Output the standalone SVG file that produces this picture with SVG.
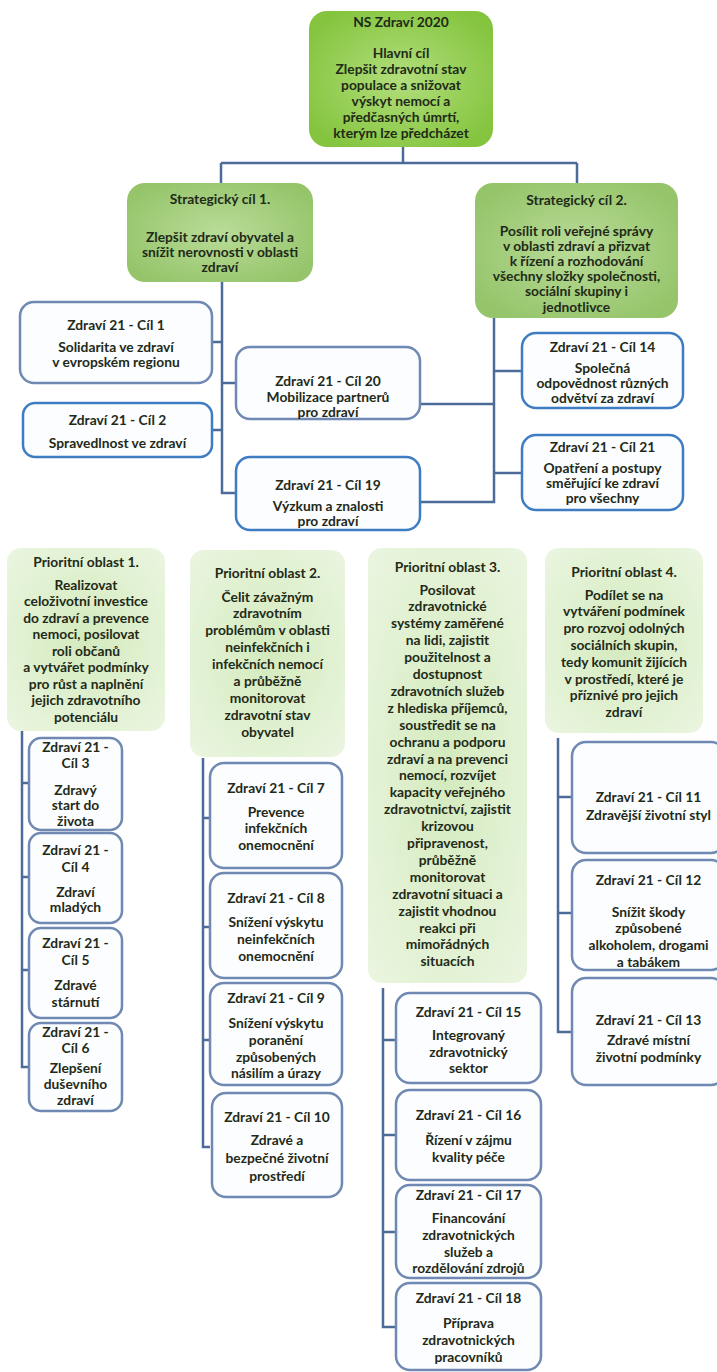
<svg xmlns="http://www.w3.org/2000/svg" width="717" height="1372" viewBox="0 0 717 1372">
<defs>
<radialGradient id="gTop" cx="50%" cy="50%" r="60%"><stop offset="0" stop-color="#b2de7c"/><stop offset="1" stop-color="#84c43e"/></radialGradient>
<radialGradient id="gStr" cx="50%" cy="50%" r="60%"><stop offset="0" stop-color="#b9dc98"/><stop offset="1" stop-color="#95c46a"/></radialGradient>
<radialGradient id="gPri" cx="50%" cy="50%" r="65%"><stop offset="0" stop-color="#d3eabd"/><stop offset="1" stop-color="#e9f5de"/></radialGradient>
<style>
.t{font-family:Lato,"Liberation Sans",sans-serif;font-size:13.8px;font-weight:700;fill:#1f2a18;text-anchor:middle}
.gb{fill:#fbfdff;stroke:#6f89b2;stroke-width:2.5}
.gbb{fill:#fbfdff;stroke:#3f7dc2;stroke-width:2.5}
.c{stroke:#4d6b98;stroke-width:2.5;fill:none}
</style>
</defs>

<g id="connectors">
<path class="c" d="M403 147V163M221 163H577M221 163V183M577 163V183"/>
<path class="c" d="M222 282V493H236M212 342H222M222 383H236M212 430H222"/>
<path class="c" d="M494 318V502H420M494 404H420M494 371H522M494 473H522"/>
<path class="c" d="M22 730V1067H29M22 783H29M22 877H29M22 970H29"/>
<path class="c" d="M203 758V1147H210M203 818H210M203 927H210M203 1040H210"/>
<path class="c" d="M383 988V1327H396M383 1040H396M383 1135H396M383 1232H396"/>
<path class="c" d="M558 738V1032H572M558 797H572M558 913H572"/>
</g>

<g id="ns2020">
<rect x="309" y="11" width="184" height="136" rx="18" fill="url(#gTop)"/>
<text class="t"><tspan x="401" y="26.5">NS Zdraví 2020</tspan><tspan x="401" y="57.5">Hlavní cíl</tspan><tspan x="401" y="73.5">Zlepšit zdravotní stav</tspan><tspan x="401" y="89.5">populace a snižovat</tspan><tspan x="401" y="105.5">výskyt nemocí a</tspan><tspan x="401" y="121.5">předčasných úmrtí,</tspan><tspan x="401" y="137.5">kterým lze předcházet</tspan></text>
</g>

<g id="strat1">
<rect x="127" y="183" width="186" height="99" rx="18" fill="url(#gStr)"/>
<text class="t"><tspan x="220" y="203.5">Strategický cíl 1.</tspan><tspan x="220" y="241.5">Zlepšit zdraví obyvatel a</tspan><tspan x="220" y="256.5">snížit nerovnosti v oblasti</tspan><tspan x="220" y="271.5">zdraví</tspan></text>
</g>

<g id="strat2">
<rect x="475" y="183" width="203" height="135" rx="18" fill="url(#gStr)"/>
<text class="t"><tspan x="576.5" y="204.5">Strategický cíl 2.</tspan><tspan x="576.5" y="236">Posílit roli veřejné správy</tspan><tspan x="576.5" y="251">v oblasti zdraví a přizvat</tspan><tspan x="576.5" y="266">k řízení a rozhodování</tspan><tspan x="576.5" y="281">všechny složky společnosti,</tspan><tspan x="576.5" y="296">sociální skupiny i</tspan><tspan x="576.5" y="311.5">jednotlivce</tspan></text>
</g>

<g id="cil1">
<rect class="gb" x="20" y="302" width="192" height="81" rx="14"/>
<text class="t"><tspan x="116" y="329.5">Zdraví 21 - Cíl 1</tspan><tspan x="116" y="351.5">Solidarita ve zdraví</tspan><tspan x="116" y="366.5">v evropském regionu</tspan></text>
</g>
<g id="cil2">
<rect class="gbb" x="23" y="403" width="189" height="54" rx="12"/>
<text class="t"><tspan x="117.5" y="424.5">Zdraví 21 - Cíl 2</tspan><tspan x="117.5" y="447.5">Spravedlnost ve zdraví</tspan></text>
</g>
<g id="cil20">
<rect class="gb" x="236" y="347" width="184" height="72" rx="14"/>
<text class="t"><tspan x="328" y="386">Zdraví 21 - Cíl 20</tspan><tspan x="328" y="401.5">Mobilizace partnerů</tspan><tspan x="328" y="416.5">pro zdraví</tspan></text>
</g>
<g id="cil19">
<rect class="gbb" x="236" y="457" width="184" height="73" rx="14"/>
<text class="t"><tspan x="328" y="489.5">Zdraví 21 - Cíl 19</tspan><tspan x="328" y="510.5">Výzkum a znalosti</tspan><tspan x="328" y="525.5">pro zdraví</tspan></text>
</g>
<g id="cil14">
<rect class="gbb" x="522" y="333" width="161" height="75" rx="14"/>
<text class="t"><tspan x="602.5" y="351.5">Zdraví 21 - Cíl 14</tspan><tspan x="602.5" y="372.5">Společná</tspan><tspan x="602.5" y="387.5">odpovědnost různých</tspan><tspan x="602.5" y="402.5">odvětví za zdraví</tspan></text>
</g>
<g id="cil21">
<rect class="gbb" x="522" y="435" width="161" height="75" rx="14"/>
<text class="t"><tspan x="602.5" y="451.5">Zdraví 21 - Cíl 21</tspan><tspan x="602.5" y="472.5">Opatření a postupy</tspan><tspan x="602.5" y="487.5">směřující ke zdraví</tspan><tspan x="602.5" y="502.5">pro všechny</tspan></text>
</g>

<g id="prior1">
<rect x="7" y="548" width="158" height="183" rx="14" fill="url(#gPri)"/>
<text class="t"><tspan x="86" y="566.5">Prioritní oblast  1.</tspan><tspan x="86" y="589.5">Realizovat</tspan><tspan x="86" y="606">celoživotní investice</tspan><tspan x="86" y="622.5">do zdraví a prevence</tspan><tspan x="86" y="639">nemoci, posilovat</tspan><tspan x="86" y="655.5">roli občanů</tspan><tspan x="86" y="672">a vytvářet podmínky</tspan><tspan x="86" y="688.5">pro růst a naplnění</tspan><tspan x="86" y="705">jejich zdravotního</tspan><tspan x="86" y="721.5">potenciálu</tspan></text>
</g>
<g id="prior2">
<rect x="190" y="550" width="155" height="207" rx="14" fill="url(#gPri)"/>
<text class="t"><tspan x="267.5" y="577.5">Prioritní oblast  2.</tspan><tspan x="267.5" y="601.5">Čelit závažným</tspan><tspan x="267.5" y="618.4">zdravotním</tspan><tspan x="267.5" y="635.3">problémům v oblasti</tspan><tspan x="267.5" y="652.2">neinfekčních i</tspan><tspan x="267.5" y="669.1">infekčních nemocí</tspan><tspan x="267.5" y="686">a průběžně</tspan><tspan x="267.5" y="702.9">monitorovat</tspan><tspan x="267.5" y="719.8">zdravotní stav</tspan><tspan x="267.5" y="736.7">obyvatel</tspan></text>
</g>
<g id="prior3">
<rect x="368" y="548" width="159" height="435" rx="14" fill="url(#gPri)"/>
<text class="t"><tspan x="447.5" y="571.5">Prioritní oblast  3.</tspan><tspan x="447.5" y="594.5">Posilovat</tspan><tspan x="447.5" y="611.4">zdravotnické</tspan><tspan x="447.5" y="628.3">systémy zaměřené</tspan><tspan x="447.5" y="645.2">na lidi, zajistit</tspan><tspan x="447.5" y="662.1">použitelnost a</tspan><tspan x="447.5" y="679">dostupnost</tspan><tspan x="447.5" y="695.9">zdravotních služeb</tspan><tspan x="447.5" y="712.8">z hlediska příjemců,</tspan><tspan x="447.5" y="729.7">soustředit se na</tspan><tspan x="447.5" y="746.6">ochranu a podporu</tspan><tspan x="447.5" y="763.5">zdraví a na prevenci</tspan><tspan x="447.5" y="780.4">nemocí, rozvíjet</tspan><tspan x="447.5" y="797.3">kapacity veřejného</tspan><tspan x="447.5" y="814.2">zdravotnictví, zajistit</tspan><tspan x="447.5" y="831.1">krizovou</tspan><tspan x="447.5" y="848">připravenost,</tspan><tspan x="447.5" y="864.9">průběžně</tspan><tspan x="447.5" y="881.8">monitorovat</tspan><tspan x="447.5" y="898.7">zdravotní situaci a</tspan><tspan x="447.5" y="915.6">zajistit vhodnou</tspan><tspan x="447.5" y="932.5">reakci při</tspan><tspan x="447.5" y="949.4">mimořádných</tspan><tspan x="447.5" y="966.3">situacích</tspan></text>
</g>
<g id="prior4">
<rect x="545" y="548" width="158" height="185" rx="14" fill="url(#gPri)"/>
<text class="t"><tspan x="624" y="576.5">Prioritní oblast  4.</tspan><tspan x="624" y="599.5">Podílet se na</tspan><tspan x="624" y="616.3">vytváření podmínek</tspan><tspan x="624" y="633.1">pro rozvoj odolných</tspan><tspan x="624" y="649.9">sociálních skupin,</tspan><tspan x="624" y="666.7">tedy komunit žijících</tspan><tspan x="624" y="683.5">v prostředí, které je</tspan><tspan x="624" y="700.3">příznivé pro jejich</tspan><tspan x="624" y="717.1">zdraví</tspan></text>
</g>

<g id="cil3">
<rect class="gb" x="29" y="738" width="93" height="92" rx="12"/>
<text class="t"><tspan x="75.5" y="751.5">Zdraví 21 -</tspan><tspan x="75.5" y="767.5">Cíl 3</tspan><tspan x="75.5" y="794.5">Zdravý</tspan><tspan x="75.5" y="809.5">start do</tspan><tspan x="75.5" y="825.5">života</tspan></text>
</g>
<g id="cil4">
<rect class="gb" x="29" y="833" width="93" height="90" rx="12"/>
<text class="t"><tspan x="75.5" y="854.5">Zdraví 21 -</tspan><tspan x="75.5" y="871.5">Cíl 4</tspan><tspan x="75.5" y="896.5">Zdraví</tspan><tspan x="75.5" y="911.5">mladých</tspan></text>
</g>
<g id="cil5">
<rect class="gb" x="29" y="928" width="93" height="90" rx="12"/>
<text class="t"><tspan x="75.5" y="947.5">Zdraví 21 -</tspan><tspan x="75.5" y="964.5">Cíl 5</tspan><tspan x="75.5" y="989.5">Zdravé</tspan><tspan x="75.5" y="1006.5">stárnutí</tspan></text>
</g>
<g id="cil6">
<rect class="gb" x="29" y="1023" width="93" height="88" rx="12"/>
<text class="t"><tspan x="75.5" y="1036.5">Zdraví 21 -</tspan><tspan x="75.5" y="1052.5">Cíl 6</tspan><tspan x="75.5" y="1072.5">Zlepšení</tspan><tspan x="75.5" y="1088.5">duševního</tspan><tspan x="75.5" y="1104.5">zdraví</tspan></text>
</g>

<g id="cil7">
<rect class="gb" x="210" y="763" width="132" height="105" rx="14"/>
<text class="t"><tspan x="276" y="792.5">Zdraví 21 - Cíl 7</tspan><tspan x="276" y="816.5">Prevence</tspan><tspan x="276" y="833">infekčních</tspan><tspan x="276" y="849.5">onemocnění</tspan></text>
</g>
<g id="cil8">
<rect class="gb" x="210" y="873" width="132" height="105" rx="14"/>
<text class="t"><tspan x="276" y="902.5">Zdraví 21 - Cíl 8</tspan><tspan x="276" y="926.5">Snížení výskytu</tspan><tspan x="276" y="943.5">neinfekčních</tspan><tspan x="276" y="960.5">onemocnění</tspan></text>
</g>
<g id="cil9">
<rect class="gb" x="210" y="983" width="132" height="102" rx="14"/>
<text class="t"><tspan x="276" y="1002.5">Zdraví 21 - Cíl 9</tspan><tspan x="276" y="1027.5">Snížení výskytu</tspan><tspan x="276" y="1044.5">poranění</tspan><tspan x="276" y="1061.5">způsobených</tspan><tspan x="276" y="1077.5">násilím a úrazy</tspan></text>
</g>
<g id="cil10">
<rect class="gb" x="212" y="1093" width="130" height="104" rx="14"/>
<text class="t"><tspan x="277" y="1121.5">Zdraví 21 - Cíl 10</tspan><tspan x="277" y="1144.5">Zdravé a</tspan><tspan x="277" y="1162.5">bezpečné životní</tspan><tspan x="277" y="1181">prostředí</tspan></text>
</g>

<g id="cil15">
<rect class="gb" x="396" y="993" width="145" height="90" rx="14"/>
<text class="t"><tspan x="468.5" y="1016.5">Zdraví 21 - Cíl 15</tspan><tspan x="468.5" y="1039.5">Integrovaný</tspan><tspan x="468.5" y="1056.5">zdravotnický</tspan><tspan x="468.5" y="1072.5">sektor</tspan></text>
</g>
<g id="cil16">
<rect class="gb" x="396" y="1090" width="145" height="90" rx="14"/>
<text class="t"><tspan x="468.5" y="1119.5">Zdraví 21 - Cíl 16</tspan><tspan x="468.5" y="1144.5">Řízení v zájmu</tspan><tspan x="468.5" y="1161.5">kvality péče</tspan></text>
</g>
<g id="cil17">
<rect class="gb" x="396" y="1185" width="145" height="93" rx="14"/>
<text class="t"><tspan x="468.5" y="1199.5">Zdraví 21 - Cíl 17</tspan><tspan x="468.5" y="1222.5">Financování</tspan><tspan x="468.5" y="1239.5">zdravotnických</tspan><tspan x="468.5" y="1256.5">služeb a</tspan><tspan x="468.5" y="1272.5">rozdělování zdrojů</tspan></text>
</g>
<g id="cil18">
<rect class="gb" x="396" y="1283" width="145" height="87" rx="14"/>
<text class="t"><tspan x="468.5" y="1302.5">Zdraví 21 - Cíl 18</tspan><tspan x="468.5" y="1327.5">Příprava</tspan><tspan x="468.5" y="1344.5">zdravotnických</tspan><tspan x="468.5" y="1361.5">pracovníků</tspan></text>
</g>

<g id="cil11">
<rect class="gb" x="572" y="742" width="153" height="111" rx="14"/>
<text class="t"><tspan x="648.5" y="801.5">Zdraví 21 - Cíl 11</tspan><tspan x="648.5" y="819.5">Zdravější životní styl</tspan></text>
</g>
<g id="cil12">
<rect class="gb" x="572" y="860" width="153" height="110" rx="14"/>
<text class="t"><tspan x="648.5" y="884.5">Zdraví 21 - Cíl 12</tspan><tspan x="648.5" y="916.5">Snížit škody</tspan><tspan x="648.5" y="932.5">způsobené</tspan><tspan x="648.5" y="949.5">alkoholem, drogami</tspan><tspan x="648.5" y="966.5">a tabákem</tspan></text>
</g>
<g id="cil13">
<rect class="gb" x="572" y="978" width="153" height="107" rx="14"/>
<text class="t"><tspan x="648.5" y="1024.5">Zdraví 21 - Cíl 13</tspan><tspan x="648.5" y="1044.5">Zdravé místní</tspan><tspan x="648.5" y="1061.5">životní podmínky</tspan></text>
</g>
</svg>
